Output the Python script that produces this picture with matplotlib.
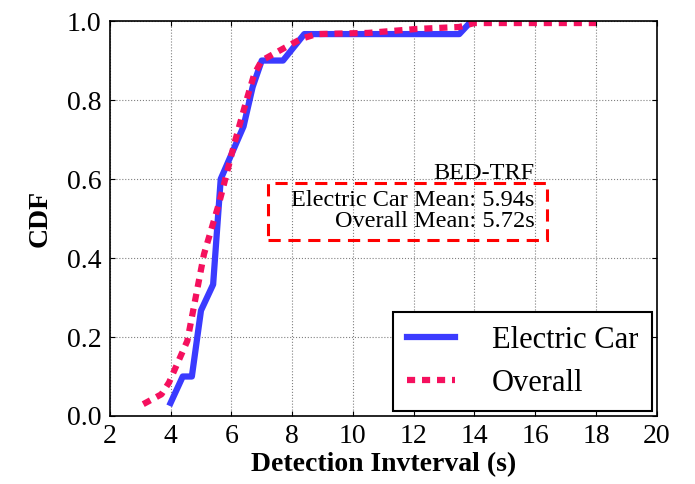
import matplotlib.pyplot as plt
from matplotlib.patches import Rectangle

plt.rcParams["font.family"] = ["Liberation Serif", "DejaVu Serif"]

# Electric car CDF
ev_x = [4.0, 4.4, 4.7, 5.0, 5.4, 5.65, 6.4, 6.7, 7.0, 7.7, 8.4, 13.5, 13.9]
ev_y = [0.033, 0.1, 0.1, 0.267, 0.333, 0.6, 0.733, 0.833, 0.9, 0.9, 0.967, 0.967, 1.0]

# Overall CDF
all_x = [3.1, 3.7, 3.95, 4.55, 5.1, 5.6, 6.1, 6.5, 6.75, 7.0, 7.7, 8.3, 8.8, 10.5, 12.1, 13.5, 14.0, 18.0]
all_y = [0.03, 0.055, 0.085, 0.19, 0.41, 0.54, 0.69, 0.80, 0.865, 0.9, 0.93, 0.955, 0.967, 0.97, 0.98, 0.985, 0.995, 0.995]

fig = plt.figure(figsize=(6.95, 4.84), dpi=100)
ax = fig.add_axes([0.158, 0.1405, 0.787, 0.816])

ax.plot(ev_x, ev_y, color="#3b3bff", lw=4.5, label="Electric Car")
ax.plot(all_x, all_y, color="#f5105e", lw=4.5, linestyle=(0, (1.3, 1.1)), label="Overall")

ax.set_xlim(2, 20)
ax.set_ylim(0, 1.0)
ax.set_xticks(range(2, 21, 2))
ax.set_yticks([0.0, 0.2, 0.4, 0.6, 0.8, 1.0])
ax.tick_params(direction="in", top=True, right=True, labelsize=20, pad=6)
ax.grid(True, color="gray", linestyle=":", lw=0.8)
for s in ax.spines.values():
    s.set_linewidth(1.2)

ax.set_xlabel("Detection Invterval (s)", fontsize=20, fontweight="bold", labelpad=2)
ax.set_ylabel("CDF", fontsize=20, fontweight="bold", labelpad=10)

leg = ax.legend(loc="lower right", fontsize=22, fancybox=False, framealpha=1,
                edgecolor="black", handlelength=1.6, borderpad=0.45, labelspacing=0.45,
                borderaxespad=0.15, handletextpad=1.2)
leg.get_frame().set_linewidth(1.5)

ax.text(0.777, 0.588, "BED-TRF", transform=ax.transAxes, ha="right", va="bottom", fontsize=17.5)
ax.text(0.777, 0.573, "Electric Car Mean: 5.94s\nOverall Mean: 5.72s",
        transform=ax.transAxes, ha="right", va="top", fontsize=17.5, linespacing=1.0)
ax.add_patch(Rectangle((0.289, 0.446), 0.51, 0.144, transform=ax.transAxes,
                       fill=False, edgecolor="red", linestyle=(0, (4, 2.5)), lw=2.2, zorder=3))

fig.savefig("out.png", dpi=100)
